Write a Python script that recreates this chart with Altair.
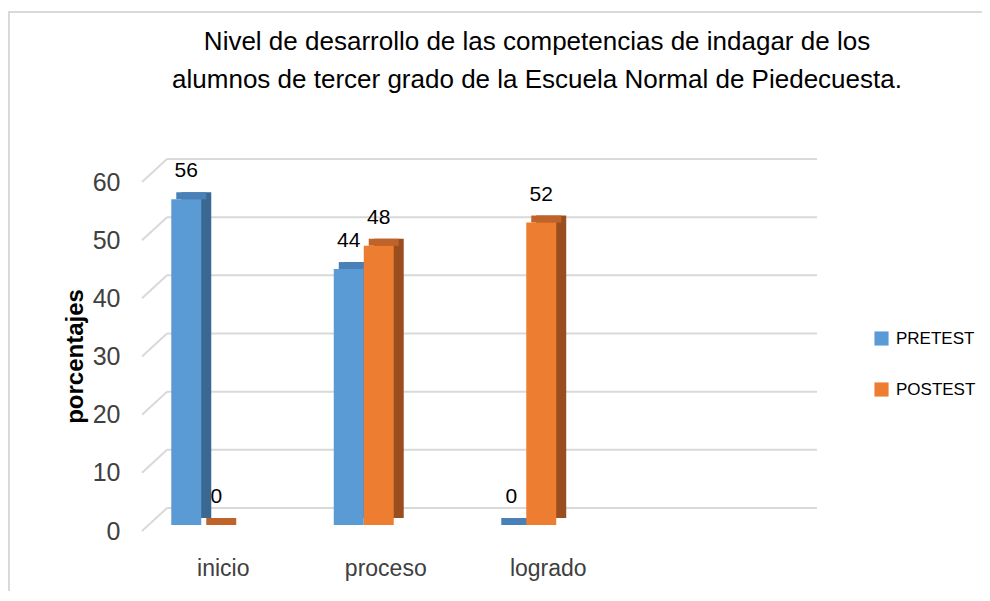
import altair as alt
import pandas as pd

# ---- data ----
categories = ["inicio", "proceso", "logrado"]
blank_category = [" "]
series = ["PRETEST", "POSTEST"]
pretest = [56, 44, 0]
postest = [0, 48, 52]
y_ticks = [0, 10, 20, 30, 40, 50, 60]
title_lines = [
    "Nivel de desarrollo de las competencias de indagar de los",
    "alumnos de tercer grado de la Escuela Normal de Piedecuesta.",
]
y_title = "porcentajes"

front_colors = ["#5b9bd5", "#ed7d31"]
top_colors = ["#4a80b8", "#c0632a"]
side_colors = ["#3b6893", "#9a4e1f"]

rows = []
for c, a, b in zip(categories, pretest, postest):
    rows.append({"cat": c, "serie": series[0], "val": a})
    rows.append({"cat": c, "serie": series[1], "val": b})
df = pd.DataFrame(rows)
grid_df = pd.DataFrame({"val": y_ticks})
one_df = pd.DataFrame({"k": [0]})

W, H = 650, 349
FONT = "Liberation Sans"
TXT = "#404040"
DOMAIN = categories + blank_category


def xscale(shift):
    return alt.Scale(domain=DOMAIN, paddingInner=0.631, paddingOuter=0.3155,
                     range=[shift, W + shift])


x_axis = alt.Axis(title=None, domain=False, ticks=False, labelAngle=0, labelFontSize=23,
                  labelFont=FONT, labelColor=TXT, labelPadding=26)
xo_enc = alt.XOffset("serie:N", scale=alt.Scale(domain=series), sort=None)
y_axis = alt.Axis(values=y_ticks, title=y_title, grid=False, domain=False, ticks=False,
                  labelFontSize=25, labelFont=FONT, labelColor=TXT, labelPadding=22,
                  titleFont=FONT, titleFontSize=24, titleFontWeight="bold", titleColor="#000000",
                  titleAngle=270, titleX=-67, titleY=174, titleAlign="center", titleBaseline="middle")
y_scale = alt.Scale(domain=[0, 60], nice=False)


def y_enc():
    return alt.Y("val:Q", scale=y_scale, axis=y_axis)


def pick(colors):
    return alt.condition(alt.datum.serie == series[0], alt.value(colors[0]), alt.value(colors[1]))


border = alt.Chart(one_df).mark_rect(fill=None, stroke="#d9d9d9", strokeWidth=2).encode(
    x=alt.value(-133), x2=alt.value(900), y=alt.value(-170), y2=alt.value(500))

title1 = alt.Chart(one_df).mark_text(font=FONT, fontSize=26, color="#000000",
                                     align="center", baseline="middle").encode(
    x=alt.value(395), y=alt.value(-140), text=alt.value(title_lines[0]))
title2 = alt.Chart(one_df).mark_text(font=FONT, fontSize=26, color="#000000",
                                     align="center", baseline="middle").encode(
    x=alt.value(395), y=alt.value(-102), text=alt.value(title_lines[1]))

back_grid = alt.Chart(grid_df).mark_rule(color="#d9d9d9", strokeWidth=2, yOffset=-23).encode(
    x=alt.value(25), x2=alt.value(675), y=y_enc())

wall_grid = alt.Chart(grid_df).mark_rule(color="#d9d9d9", strokeWidth=2, y2Offset=-23).encode(
    x=alt.value(0), x2=alt.value(25), y=y_enc(), y2="val:Q")

side = alt.Chart(df).mark_bar(yOffset=-13, y2Offset=-13).encode(
    x=alt.X("cat:N", scale=xscale(-12), sort=None, axis=None), xOffset=xo_enc,
    y=y_enc(), y2=alt.datum(0), color=pick(side_colors))

top = alt.Chart(df).mark_bar(yOffset=-6, y2Offset=-13).encode(
    x=alt.X("cat:N", scale=xscale(-17), sort=None, axis=None), xOffset=xo_enc,
    y=y_enc(), y2="val:Q", color=pick(top_colors))

front = alt.Chart(df).mark_bar(yOffset=-6, y2Offset=-6).encode(
    x=alt.X("cat:N", scale=xscale(-22), sort=None, axis=None), xOffset=xo_enc,
    y=y_enc(), y2=alt.datum(0),
    color=alt.Color("serie:N", scale=alt.Scale(domain=series, range=front_colors), sort=None,
                    legend=alt.Legend(title=None, orient="none", legendX=731, legendY=148,
                                      symbolType="square", symbolSize=200, symbolStrokeWidth=0,
                                      labelFont=FONT, labelFontSize=17, labelColor="#000000",
                                      rowPadding=33, padding=0, labelOffset=6)))

labels = alt.Chart(df).mark_text(dx=-22, dy=-34, baseline="middle", align="center",
                                 font=FONT, fontSize=21, color="#000000").encode(
    x=alt.X("cat:N", scale=xscale(0), sort=None, axis=x_axis), xOffset=xo_enc,
    y=y_enc(), text=alt.Text("val:Q"))

chart = alt.layer(border, title1, title2, back_grid, wall_grid, side, top, front, labels).resolve_scale(
    x="independent", xOffset="independent"
).properties(
    width=W, height=H,
    autosize=alt.AutoSizeParams(type="none"),
    padding={"left": 134, "top": 174, "right": 190, "bottom": 60},
).configure_view(stroke=None)

chart.save("out.html", embed_options={"renderer": "svg", "actions": False})
